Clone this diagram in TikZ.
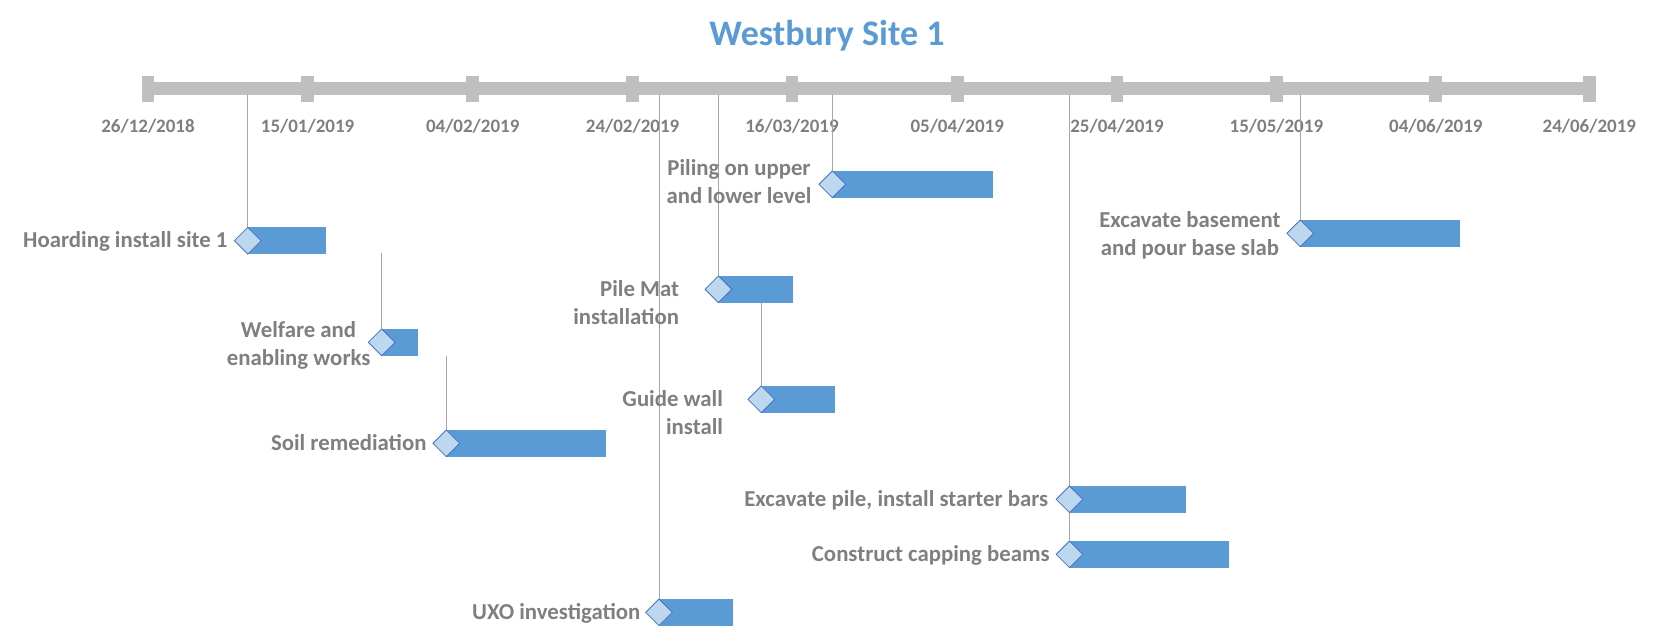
\documentclass[tikz,border=0pt]{standalone}
\usepackage{fontspec}
\setmainfont{Carlito}
\usetikzlibrary{shapes.geometric}
\definecolor{txtgray}{HTML}{7F7F7F}
\definecolor{titleblue}{HTML}{5B9BD5}
\definecolor{axisgray}{HTML}{BFBFBF}
\definecolor{leadgray}{HTML}{A6A6A6}
\definecolor{barblue}{HTML}{5B9BD5}
\definecolor{dfill}{HTML}{BDD7EE}
\definecolor{dborder}{HTML}{4472C4}
\begin{document}
\begin{tikzpicture}[x=1pt,y=-1pt,
  datelab/.style={font=\fontsize{19}{23}\selectfont\bfseries, text=txtgray, inner sep=0pt, anchor=base},
  tasklab/.style={font=\fontsize{22.8}{27.7}\selectfont\bfseries, text=txtgray, inner sep=0pt},
  diam/.style={diamond, draw=dborder, fill=dfill, minimum width=27pt, minimum height=27pt, inner sep=0pt, line width=0.8pt},
  bar/.style={fill=barblue, inner sep=0pt, minimum height=26.7pt, anchor=west},
  leader/.style={draw=leadgray, line width=0.8pt}]
\useasboundingbox (0,0) rectangle (1657,640);
% title
\node[font=\fontsize{36}{43}\selectfont\bfseries, text=titleblue, inner sep=0pt, anchor=base] (title) at (827,45) {Westbury Site 1};
% axis
\fill[axisgray] (141.9,81.7) rectangle (1595.7,95);
\foreach \x/\d [count=\i] in {148/26\slash12\slash2018, 307.6/15\slash01\slash2019, 472.7/04\slash02\slash2019, 632.6/24\slash02\slash2019, 792/16\slash03\slash2019, 957.2/05\slash04\slash2019, 1117/25\slash04\slash2019, 1276.4/15\slash05\slash2019, 1435.8/04\slash06\slash2019, 1589.3/24\slash06\slash2019}{
  \fill[axisgray] (\x-6.35,76) rectangle (\x+6.35,101.7);
  \node[datelab] (date\i) at (\x,132) {\d};
}
% leader start points
\coordinate (s1) at (247.8,95);
\coordinate (s2) at (381.7,253.3);
\coordinate (s3) at (446.3,355.7);
\coordinate (s4) at (659,95);
\coordinate (s5) at (718.4,95);
\coordinate (s6) at (761.3,302.7);
\coordinate (s7) at (832.3,95);
\coordinate (s9) at (1069.5,95);
\coordinate (s10) at (1300.3,95);
% bars
\node[bar, minimum width=78.2pt] (b1) at (247.8,240.7) {};
\node[bar, minimum width=36.5pt] (b2) at (381.7,342.3) {};
\node[bar, minimum width=159.3pt] (b3) at (446.3,443.3) {};
\node[bar, minimum width=73.7pt] (b4) at (659,612.3) {};
\node[bar, minimum width=74.1pt] (b5) at (718.4,289.3) {};
\node[bar, minimum width=73.1pt] (b6) at (761.3,399.3) {};
\node[bar, minimum width=160.4pt] (b7) at (832.3,184.3) {};
\node[bar, minimum width=115.9pt] (b8) at (1069.5,499.3) {};
\node[bar, minimum width=158.8pt] (b9) at (1069.5,554.3) {};
\node[bar, minimum width=159.3pt] (b10) at (1300.3,233.3) {};
% diamonds
\node[diam] (d1) at (b1.west) {};
\node[diam] (d2) at (b2.west) {};
\node[diam] (d3) at (b3.west) {};
\node[diam] (d4) at (b4.west) {};
\node[diam] (d5) at (b5.west) {};
\node[diam] (d6) at (b6.west) {};
\node[diam] (d7) at (b7.west) {};
\node[diam] (d9) at (b9.west) {};
\node[diam] (d10) at (b10.west) {};
% leaders
\begin{scope}[on background layer/.try]
\end{scope}
\draw[leader] (s1) -- (b1.north west);
\draw[leader] (s2) -- (b2.north west);
\draw[leader] (s3) -- (b3.north west);
\draw[leader] (s4) -- (b4.north west);
\draw[leader] (s5) -- (b5.north west);
\draw[leader] (s6) -- (b6.north west);
\draw[leader] (s7) -- (b7.north west);
\draw[leader] (s9) -- (b9.north west);
\draw[leader] (s10) -- (b10.north west);
\node[diam] (d8) at (b8.west) {};
% labels
\node[tasklab, anchor=base east] (l1) at (227.6,247.3) {Hoarding install site 1};
\node[tasklab, anchor=base] (l2) at (298.6,337.3) {\begin{tabular}[t]{@{}c@{}}Welfare and\\enabling works\end{tabular}};
\node[tasklab, anchor=base east] (l3) at (426.7,450) {Soil remediation};
\node[tasklab, anchor=base east] (l4) at (640.6,619) {UXO investigation};
\node[tasklab, anchor=base east] (l5) at (679.2,296.7) {\begin{tabular}[t]{@{}r@{}}Pile Mat\\installation\end{tabular}};
\node[tasklab, anchor=base east] (l6) at (723.1,406.7) {\begin{tabular}[t]{@{}r@{}}Guide wall\\install\end{tabular}};
\node[tasklab, anchor=base] (l7) at (739,175.3) {\begin{tabular}[t]{@{}c@{}}Piling on upper\\and lower level\end{tabular}};
\node[tasklab, anchor=base east] (l8) at (1048.3,506.3) {Excavate pile, install starter bars};
\node[tasklab, anchor=base east] (l9) at (1049.9,561) {Construct capping beams};
\node[tasklab, anchor=base] (l10) at (1189.9,227.3) {\begin{tabular}[t]{@{}c@{}}Excavate basement\\and pour base slab\end{tabular}};
\end{tikzpicture}
\end{document}
